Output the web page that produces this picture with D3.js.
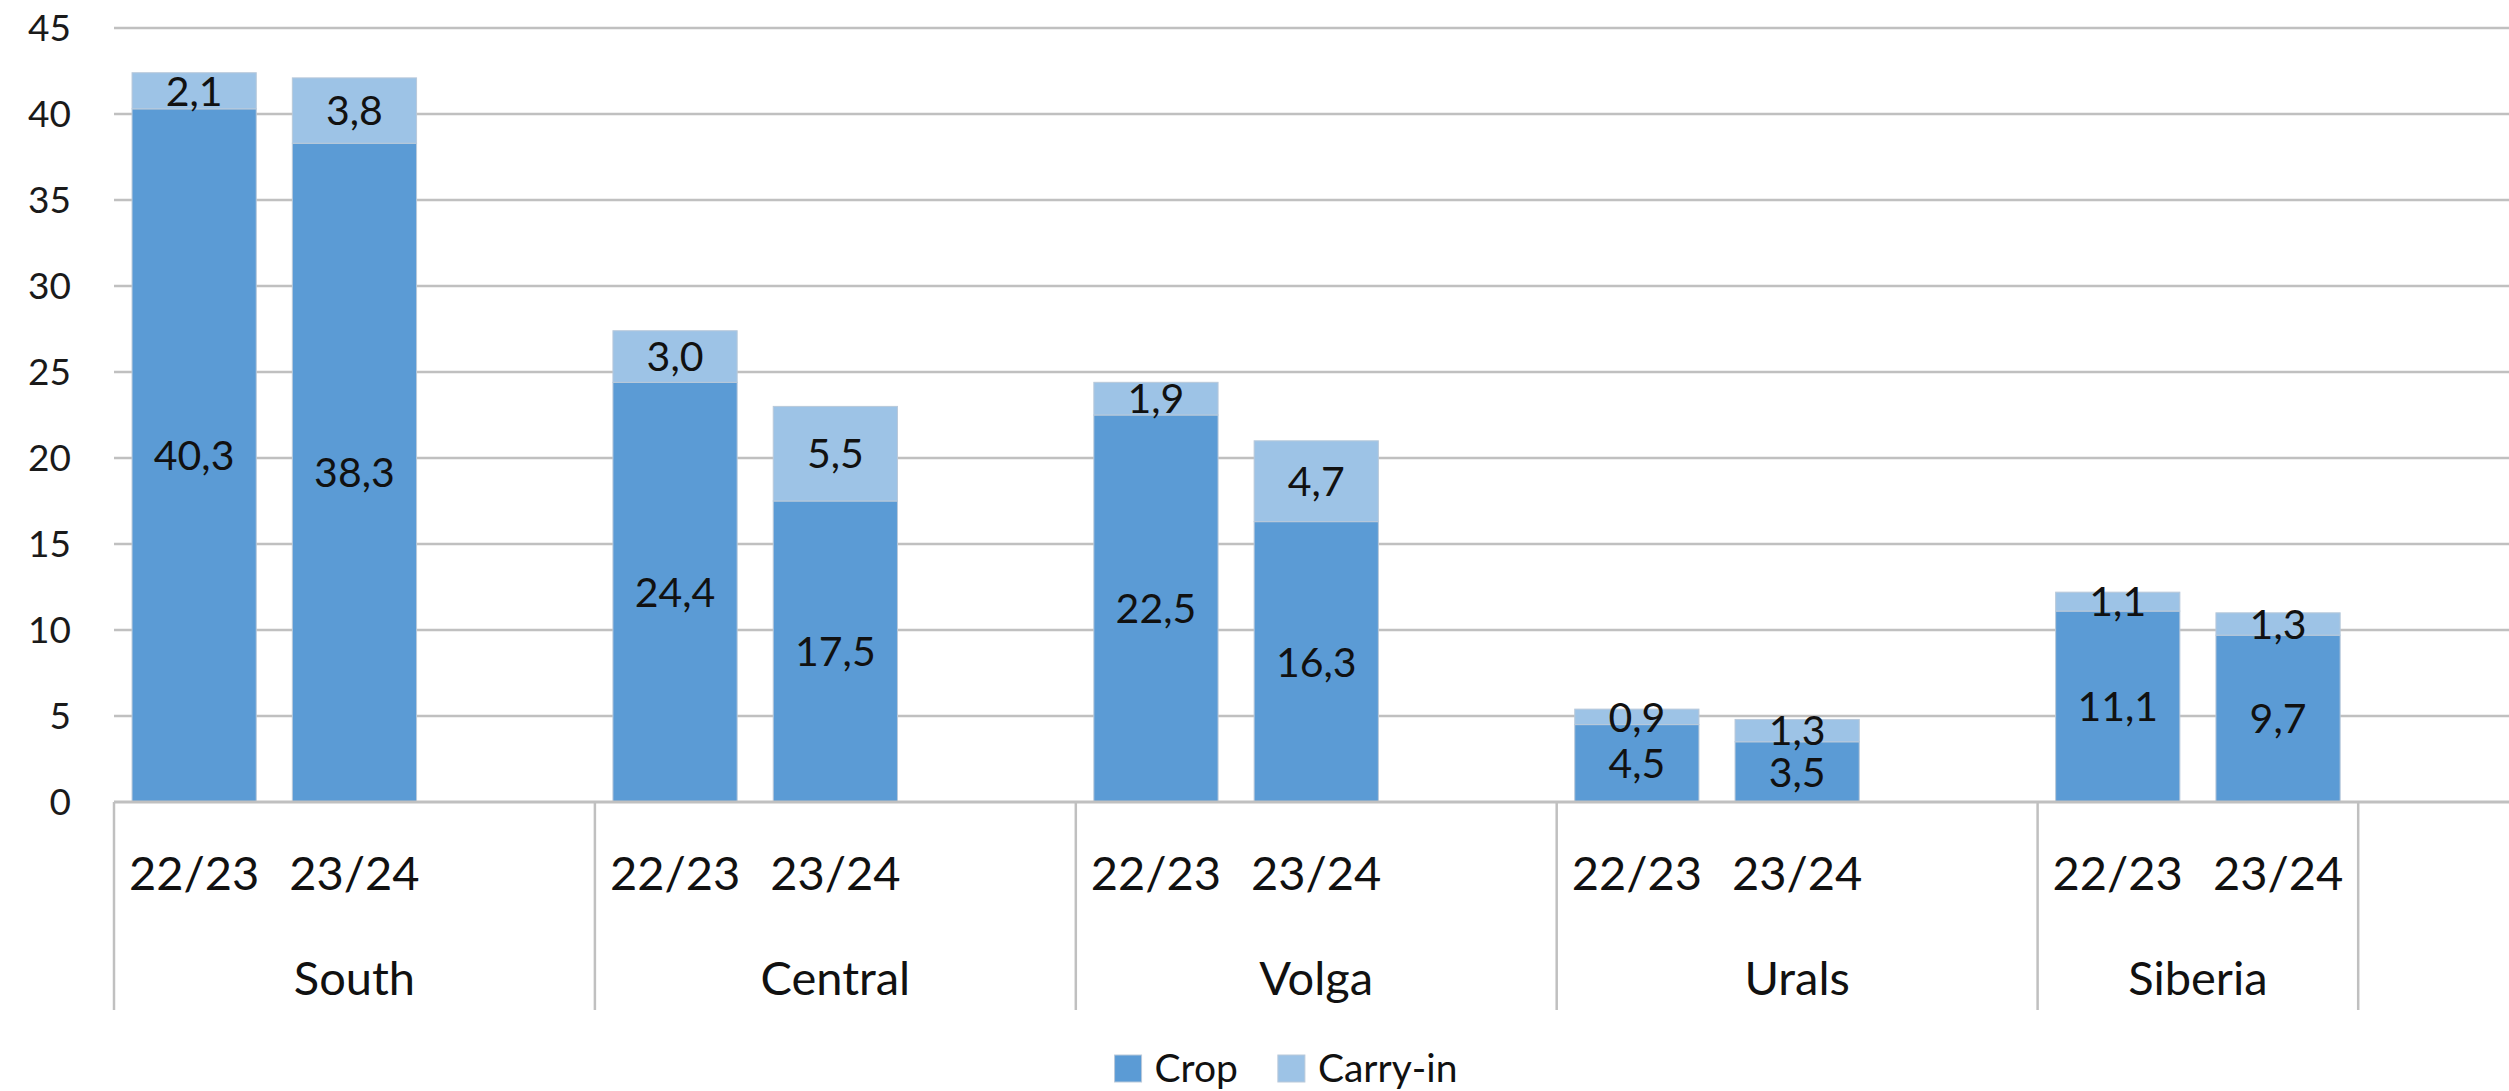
<!DOCTYPE html>
<html>
<head>
<meta charset="utf-8">
<script src="https://cdn.jsdelivr.net/npm/d3@7"></script>
<style>
  body { margin: 0; background: #fff; }
  svg { display: block; }
</style>
</head>
<body>
<script>
const regions = ['South', 'Central', 'Volga', 'Urals', 'Siberia']
const seasons = ['22/23', '23/24']
// values per region, in season order
const crop = [40.3, 38.3, 24.4, 17.5, 22.5, 16.3, 4.5, 3.5, 11.1, 9.7]
const carryIn = [2.1, 3.8, 3.0, 5.5, 1.9, 4.7, 0.9, 1.3, 1.1, 1.3]
const seriesNames = ['Crop', 'Carry-in']
const yTicks = [0, 5, 10, 15, 20, 25, 30, 35, 40, 45]

const width = 2509
const height = 1091
const colors = { crop: '#5b9bd5', carryIn: '#9dc3e6' }
const font = 'Lato, "Open Sans", sans-serif'

// rows for the stack
const rows = []
regions.forEach((r, i) => {
    seasons.forEach((s, j) => {
        const k = i * seasons.length + j
        rows.push({ key: r + '|' + s, region: r, season: s, crop: crop[k], carryIn: carryIn[k] })
    })
})

// slots on the x axis: each region gets its seasons plus an empty slot,
// Siberia's empty slot sits in its own unnamed group
const slots = []
const groups = []
regions.forEach((r, i) => {
    const keys = seasons.map(s => r + '|' + s)
    slots.push(...keys)
    if (i < regions.length - 1) {
        const gap = r + '|_'
        slots.push(gap)
        groups.push({ name: r, keys: keys.concat(gap) })
    } else {
        groups.push({ name: r, keys })
        slots.push('_end')
        groups.push({ name: '', keys: ['_end'] })
    }
})

const x0 = 114
const slotW = 160.3
const x = d3.scaleBand()
    .domain(slots)
    .range([x0, x0 + slotW * slots.length])
    .paddingInner(0.225)
    .paddingOuter(0.1125)

const y = d3.scaleLinear()
    .domain([0, 45])
    .range([802, 28])

const slotStart = k => x(k) - (x.step() - x.bandwidth()) / 2

const svg = d3.select('body').append('svg')
    .attr('width', width)
    .attr('height', height)
    .attr('viewBox', [0, 0, width, height])

// gridlines
svg.append('g')
        .attr('stroke', '#c0c0c0')
        .attr('stroke-width', 2.5)
    .selectAll('line')
    .data(yTicks.filter(d => d > 0))
    .join('line')
        .attr('x1', x0)
        .attr('x2', width)
        .attr('y1', d => y(d))
        .attr('y2', d => y(d))

// y tick labels
svg.append('g')
        .attr('font-family', font)
        .attr('font-size', 37)
        .attr('fill', '#1a1a1a')
        .attr('text-anchor', 'end')
    .selectAll('text')
    .data(yTicks)
    .join('text')
        .attr('x', 71)
        .attr('y', d => y(d))
        .attr('dy', '0.36em')
        .text(d => d)

// stacked bars
const stacked = d3.stack().keys(['crop', 'carryIn'])(rows)

const layer = svg.append('g')
    .selectAll('g')
    .data(stacked)
    .join('g')
        .attr('fill', d => colors[d.key])

layer.selectAll('rect')
    .data(d => d)
    .join('rect')
        .attr('x', d => x(d.data.key))
        .attr('y', d => y(d[1]))
        .attr('width', x.bandwidth())
        .attr('height', d => y(d[0]) - y(d[1]))
        .attr('stroke', '#b9c9da')
        .attr('stroke-width', 1)

// data labels
const fmt = v => d3.format('.1f')(v).replace('.', ',')
layer.selectAll('text')
    .data(d => d.map(p => Object.assign({ series: d.key }, p)))
    .join('text')
        .attr('x', d => x(d.data.key) + x.bandwidth() / 2)
        .attr('y', d => y((d[0] + d[1]) / 2))
        .attr('dy', '0.36em')
        .attr('text-anchor', 'middle')
        .attr('font-family', font)
        .attr('font-size', 41)
        .attr('fill', '#111')
        .text(d => fmt(d.data[d.series]))

// category axis: zero line, separators, labels
svg.append('line')
    .attr('x1', x0)
    .attr('x2', width)
    .attr('y1', y(0))
    .attr('y2', y(0))
    .attr('stroke', '#c0c0c0')
    .attr('stroke-width', 3)

const sepX = groups.map(g => slotStart(g.keys[0]))
svg.append('g')
        .attr('stroke', '#c0c0c0')
        .attr('stroke-width', 2.5)
    .selectAll('line')
    .data(sepX)
    .join('line')
        .attr('x1', d => d)
        .attr('x2', d => d)
        .attr('y1', y(0))
        .attr('y2', 1010)

svg.append('g')
        .attr('font-family', font)
        .attr('font-size', 47)
        .attr('fill', '#111')
        .attr('text-anchor', 'middle')
    .selectAll('text')
    .data(rows)
    .join('text')
        .attr('x', d => x(d.key) + x.bandwidth() / 2)
        .attr('y', 890)
        .text(d => d.season)

svg.append('g')
        .attr('font-family', font)
        .attr('font-size', 47)
        .attr('fill', '#111')
        .attr('text-anchor', 'middle')
    .selectAll('text')
    .data(groups.filter(g => g.name))
    .join('text')
        .attr('x', g => (slotStart(g.keys[0]) + slotStart(g.keys[g.keys.length - 1]) + x.step()) / 2)
        .attr('y', 995)
        .text(g => g.name)

// legend
const legend = svg.append('g')
    .attr('font-family', font)
    .attr('font-size', 39)
    .attr('fill', '#111')

const legendColors = [colors.crop, colors.carryIn]
let lx = 0
const items = seriesNames.map((name, i) => {
    const g = legend.append('g')
    g.append('rect')
        .attr('x', 0)
        .attr('y', -27)
        .attr('width', 27)
        .attr('height', 27)
        .attr('fill', legendColors[i])
        .attr('stroke', '#b9c9da')
    const t = g.append('text')
        .attr('x', 40)
        .attr('y', 0)
        .text(name)
    const w = 40 + t.node().getComputedTextLength()
    g.attr('transform', `translate(${lx},0)`)
    lx += w + 40
    return g
})
const legendW = lx - 40
legend.attr('transform', `translate(${1286 - legendW / 2},1082)`)
</script>
</body>
</html>
